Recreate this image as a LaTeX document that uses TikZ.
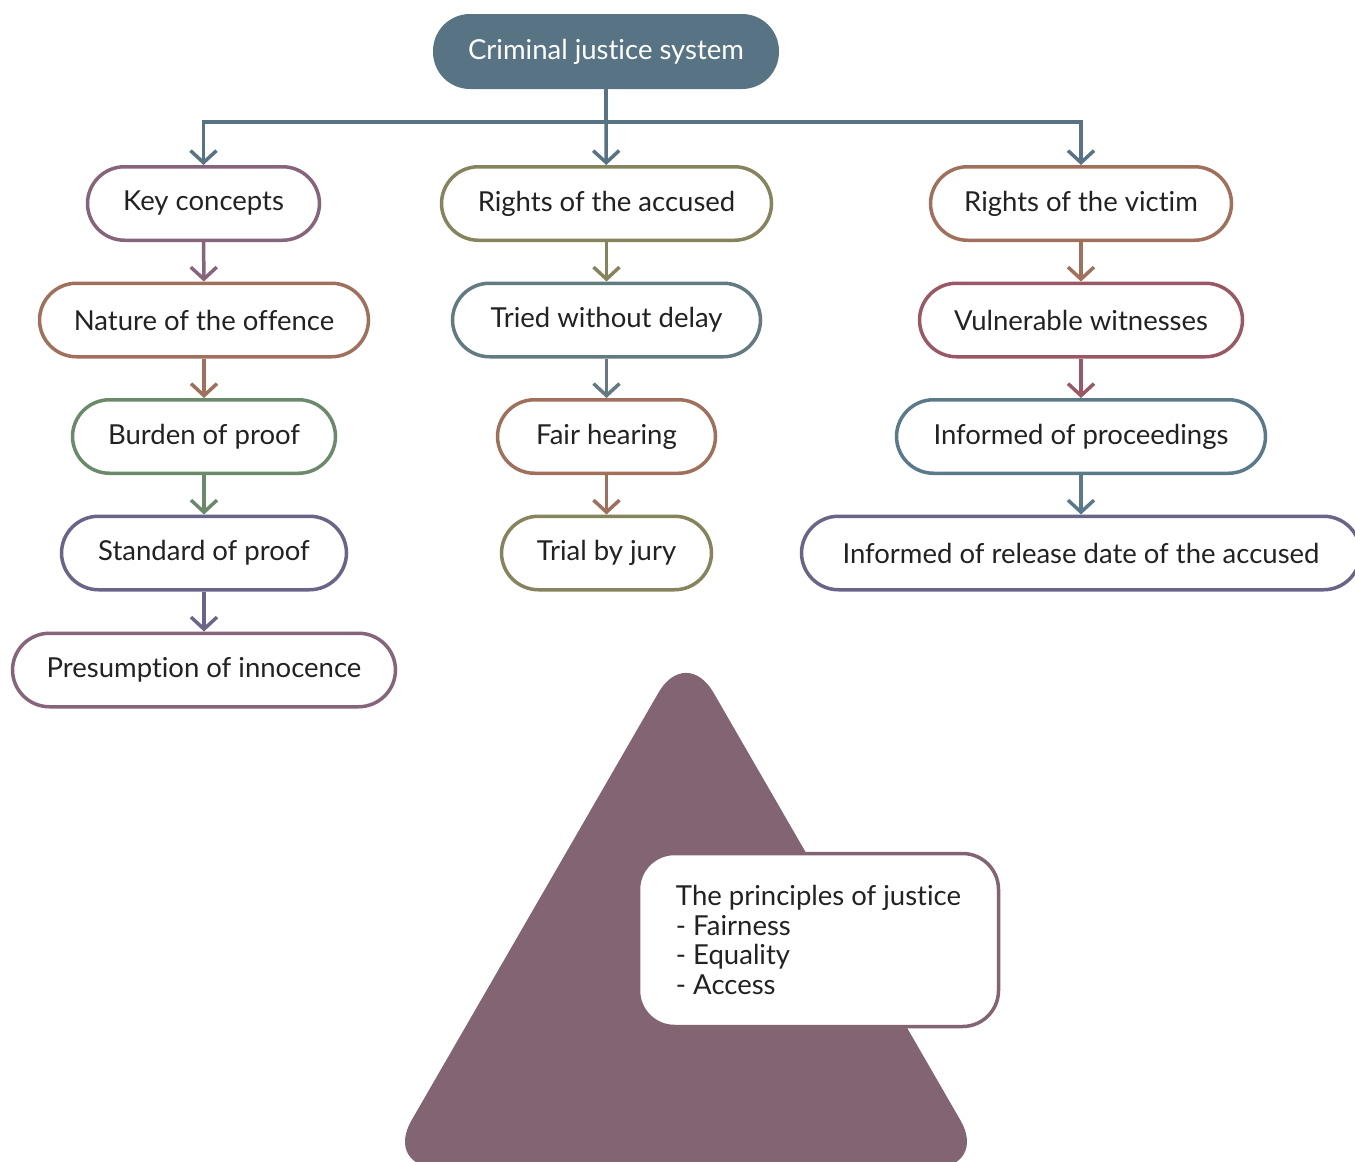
\documentclass[tikz,border=0pt]{standalone}
\usepackage{fontspec}
\setmainfont{Lato}[Ligatures=NoCommon]
\usetikzlibrary{arrows.meta}

\definecolor{slate}{HTML}{587484}
\definecolor{mauve}{HTML}{86647A}
\definecolor{brownish}{HTML}{A0705C}
\definecolor{sage}{HTML}{6B8A6B}
\definecolor{plum}{HTML}{6A6488}
\definecolor{olive}{HTML}{86845C}
\definecolor{teal}{HTML}{627A80}
\definecolor{rose}{HTML}{9A5866}
\definecolor{steel}{HTML}{5A7A8C}
\definecolor{pyramid}{HTML}{826472}
\definecolor{ink}{HTML}{222222}

\tikzset{
  labelfont/.style={font=\fontsize{27.5}{31}\selectfont},
  pill/.style={draw=#1, line width=3.5pt, fill=white, rounded corners=37pt,
    minimum height=73.5pt, inner sep=0pt, text=ink, labelfont},
  link/.style={draw=#1, line width=3.5pt,
    -{Straight Barb[length=12pt, width=26pt, line width=3.5pt]}},
}

\begin{document}
\begin{tikzpicture}[x=1pt, y=-1pt]
  \useasboundingbox (0,0) rectangle (1355,1162);

  % pyramid behind the principles box
  \fill[pyramid, rounded corners=55pt]
    (686,645) -- (988,1168) -- (384,1168) -- cycle;

  % root
  \node[fill=slate, rounded corners=37pt, minimum width=346pt, minimum height=75pt,
        inner sep=0pt, text=white, labelfont]
        (root) at (606,51.5) {Criminal justice system};
  \coordinate (hub) at (606,122);

  % left column
  \node[pill=mauve,    minimum width=232pt] (key)   at (203.5,203.5) {Key concepts};
  \node[pill=brownish, minimum width=329pt] (nat)   at (204,320)   {Nature of the offence};
  \node[pill=sage,     minimum width=263pt] (bur)   at (204,436.5) {Burden of proof};
  \node[pill=plum,     minimum width=285pt] (std)   at (204,553)   {Standard of proof};
  \node[pill=mauve,    minimum width=383pt] (pres)  at (204,670)   {Presumption of innocence};

  % middle column
  \node[pill=olive,    minimum width=330pt] (acc)   at (606.5,203.5) {Rights of the accused};
  \node[pill=teal,     minimum width=308pt] (tried) at (606.5,320)   {Tried without delay};
  \node[pill=brownish, minimum width=218pt] (fair)  at (606.5,436.5) {Fair hearing};
  \node[pill=olive,    minimum width=210pt] (jury)  at (606.5,553)   {Trial by jury};

  % right column
  \node[pill=brownish, minimum width=301pt] (vic)   at (1081,203.5) {Rights of the victim};
  \node[pill=rose,     minimum width=323pt] (vuln)  at (1081,320)   {Vulnerable witnesses};
  \node[pill=steel,    minimum width=369pt] (proc)  at (1081,436.5) {Informed of proceedings};
  \node[pill=plum,     minimum width=559pt] (rel)   at (1081,553)   {Informed of release date of the accused};

  % principles box
  \node[draw=pyramid, line width=3.5pt, fill=white, rounded corners=36pt,
        minimum width=360pt, minimum height=173pt, inner sep=0pt,
        align=left, text=ink,
        font=\fontsize{27.5}{29.5}\selectfont]
        (prin) at (818.5,940) {The principles of justice\\- Fairness\\- Equality\\- Access};

  % connectors
  \draw[line width=3.5pt, slate] (root) -- (hub);
  \draw[link=slate] (hub) -| (key);
  \draw[link=slate] (hub) -- (acc);
  \draw[link=slate] (hub) -| (vic);

  \draw[link=mauve]    (key) -- (nat);
  \draw[link=brownish] (nat) -- (bur);
  \draw[link=sage]     (bur) -- (std);
  \draw[link=plum]     (std) -- (pres);

  \draw[link=olive]    (acc) -- (tried);
  \draw[link=teal]     (tried) -- (fair);
  \draw[link=brownish] (fair) -- (jury);

  \draw[link=brownish] (vic) -- (vuln);
  \draw[link=rose]     (vuln) -- (proc);
  \draw[link=steel]    (proc) -- (rel);
\end{tikzpicture}
\end{document}
